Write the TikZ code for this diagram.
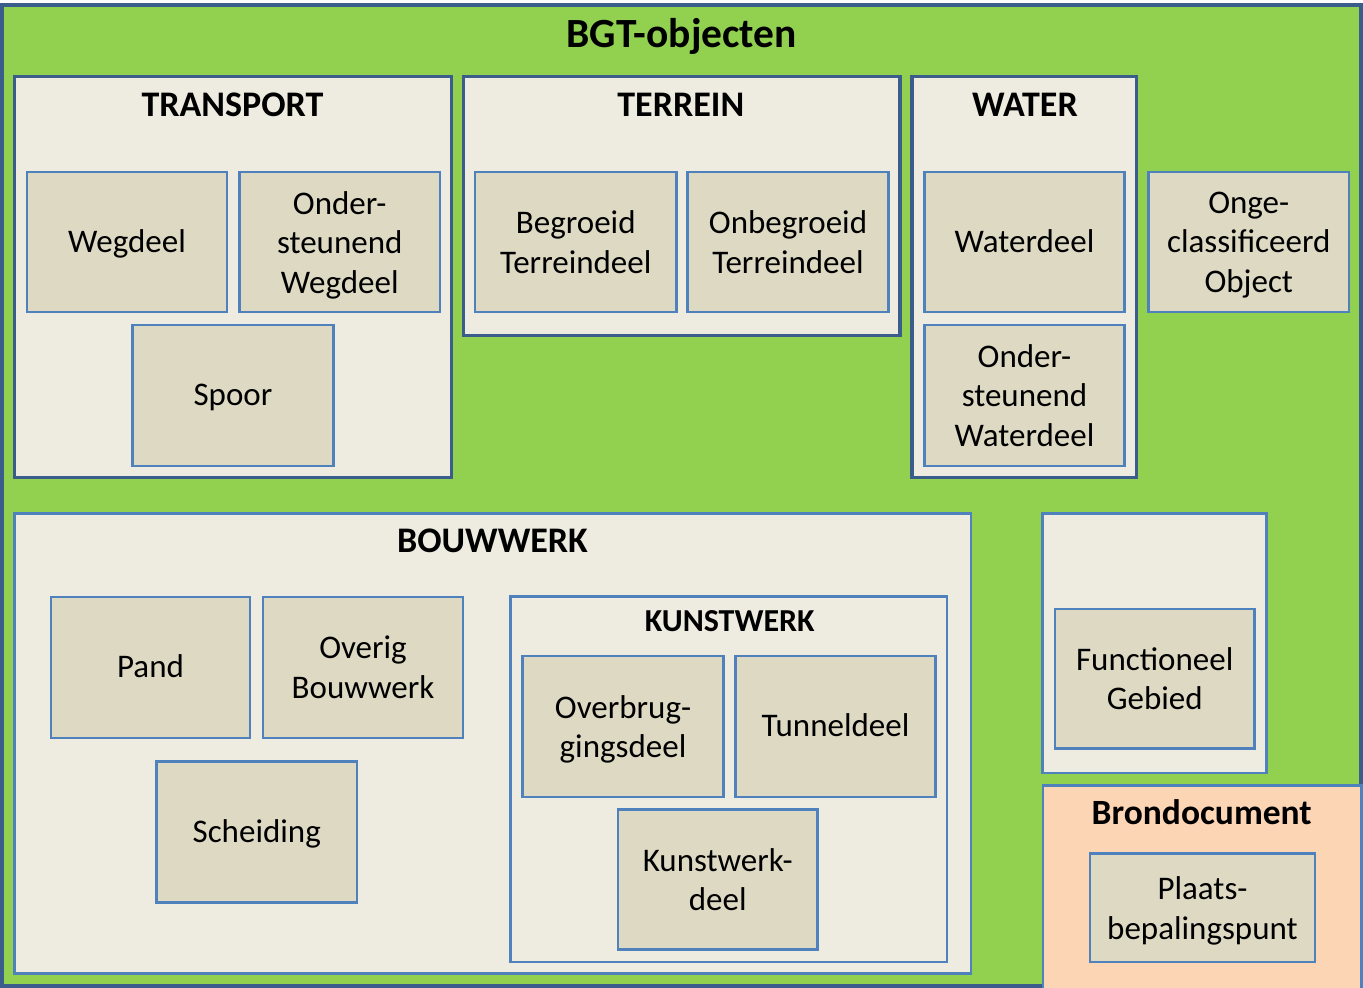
\documentclass[tikz,border=0pt]{standalone}
\usepackage{fontspec}
\setmainfont{Carlito}
\definecolor{dkblue}{HTML}{3A5D8B}
\definecolor{ltblue}{HTML}{4F81BD}
\definecolor{bggreen}{HTML}{92D050}
\definecolor{cream}{HTML}{EEECE1}
\definecolor{tanfill}{HTML}{DDD9C3}
\definecolor{peach}{HTML}{FCD5B5}
\tikzset{
  outerbox/.style={rectangle, draw=dkblue, line width=4pt, fill=bggreen, inner sep=0pt},
  grpdark/.style={rectangle, draw=dkblue, line width=3.2pt, fill=cream, inner sep=0pt},
  grplight/.style={rectangle, draw=ltblue, line width=2.6pt, fill=cream, inner sep=0pt},
  item/.style={rectangle, draw=ltblue, line width=2.6pt, fill=tanfill, inner sep=0pt,
    align=center, font=\fontsize{33}{39.5}\selectfont},
  oneline/.style={text height=26pt, text depth=6pt},
  descshift/.style={yshift=-3pt},
  grptitle/.style={anchor=base, inner sep=0pt, font=\bfseries\fontsize{36}{40}\selectfont},
}
\begin{document}
\begin{tikzpicture}[x=1pt,y=-1pt]
\useasboundingbox (0,0) rectangle (1363,988);
% outer
\node[outerbox, minimum width=1359pt, minimum height=981pt] (bgt) at (681.5,495.5) {};
% containers
\node[grpdark, minimum width=436.8pt, minimum height=400.8pt] (transport) at (232.9,276.9) {};
\node[grpdark, minimum width=436.5pt, minimum height=259pt] (terrein) at (681.75,206) {};
\node[grpdark, minimum width=224.5pt, minimum height=401pt] (water) at (1024.25,277) {};
\node[grplight, minimum width=956.5pt, minimum height=460pt] (bouwwerk) at (492.75,743.5) {};
\node[grplight, minimum width=436.5pt, minimum height=365.5pt] (kunstwerk) at (728.75,779.25) {};
\node[grplight, minimum width=224pt, minimum height=259.5pt] (functioneel) at (1154.5,643.25) {};
\node[grplight, fill=peach, minimum width=318.5pt, minimum height=206.5pt] (brondoc) at (1202.25,888.75) {};
% items
\node[item, oneline, minimum width=200pt, minimum height=140pt] (wegdeel) at (127,242) {Wegdeel};
\node[item, minimum width=200.5pt, minimum height=140pt] (owegdeel) at (339.75,242) {};
\node[align=center, inner sep=0pt, font=\fontsize{33}{39.5}\selectfont, descshift] (owegdeeltxt) at (owegdeel.center) {Onder-\\steunend\\Wegdeel};
\node[item, oneline, minimum width=201pt, minimum height=141pt] (spoor) at (233,395.5) {Spoor};
\node[item, minimum width=201.5pt, minimum height=140pt] (begroeid) at (575.75,242) {Begroeid\\Terreindeel};
\node[item, minimum width=201pt, minimum height=140pt] (onbegroeid) at (788,242) {Onbegroeid\\Terreindeel};
\node[item, oneline, minimum width=200pt, minimum height=140pt] (waterdeel) at (1024.5,242) {Waterdeel};
\node[item, minimum width=200pt, minimum height=141pt] (owaterdeel) at (1024.5,395.5) {Onder-\\steunend\\Waterdeel};
\node[item, minimum width=200.5pt, minimum height=140pt] (onge) at (1248.75,242) {};
\node[align=center, inner sep=0pt, font=\fontsize{33}{39.5}\selectfont, descshift] (ongetxt) at (onge.center) {Onge-\\classificeerd\\Object};
\node[item, oneline, minimum width=199pt, minimum height=141pt] (pand) at (150.5,667.5) {Pand};
\node[item, minimum width=200pt, minimum height=141pt] (overig) at (363,667.5) {Overig\\Bouwwerk};
\node[item, oneline, minimum width=200.5pt, minimum height=141pt] (scheiding) at (256.75,832) {Scheiding};
\node[item, minimum width=201pt, minimum height=141pt] (overbrug) at (623,726.5) {};
\node[align=center, inner sep=0pt, font=\fontsize{33}{39.5}\selectfont, descshift] (overbrugtxt) at (overbrug.center) {Overbrug-\\gingsdeel};
\node[item, oneline, minimum width=200pt, minimum height=141pt] (tunnel) at (835.5,726.5) {Tunneldeel};
\node[item, minimum width=199.5pt, minimum height=140pt] (kwdeel) at (717.75,879.5) {Kunstwerk-\\deel};
\node[item, minimum width=199.5pt, minimum height=139.5pt] (fgebied) at (1154.75,678.75) {Functioneel\\Gebied};
\node[item, minimum width=225pt, minimum height=108.5pt] (plaats) at (1202.5,907.75) {};
\node[align=center, inner sep=0pt, font=\fontsize{33}{39.5}\selectfont, descshift] (plaatstxt) at (plaats.center) {Plaats-\\bepalingspunt};
% titles
\node[grptitle, font=\bfseries\fontsize{41.5}{45}\selectfont] (tbgt) at (681.7,47) {BGT-objecten};
\node[grptitle] (ttransport) at (232.5,116) {TRANSPORT};
\node[grptitle] (tterrein) at (680.8,116) {TERREIN};
\node[grptitle] (twater) at (1025,116) {WATER};
\node[grptitle] (tbouwwerk) at (492.5,552.3) {BOUWWERK};
\node[grptitle, font=\bfseries\fontsize{32}{36}\selectfont] (tkunstwerk) at (729.7,631) {KUNSTWERK};
\node[grptitle, font=\bfseries\fontsize{35.5}{39}\selectfont] (tbrondoc) at (1201.7,824) {Brondocument};
\end{tikzpicture}
\end{document}
